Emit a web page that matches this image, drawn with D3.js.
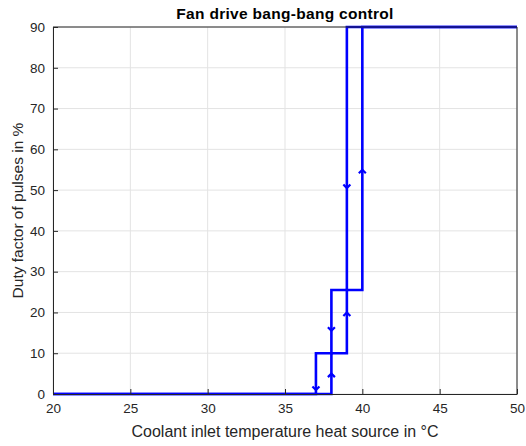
<!DOCTYPE html>
<html>
<head>
<meta charset="utf-8">
<script src="https://cdn.jsdelivr.net/npm/d3@7"></script>
<style>
  body { margin: 0; background: #fff; }
  svg { font-family: "Liberation Sans", Arial, sans-serif; }
</style>
</head>
<body>
<div id="chart"></div>
<script>
// hysteresis loop, heating branch and cooling branch
const upTemp = [20, 38, 38, 39, 39, 40, 40, 50];
const upDuty = [0, 0, 10, 10, 25.5, 25.5, 90, 90];
const downTemp = [50, 39, 39, 38, 38, 37, 37, 20];
const downDuty = [90, 90, 25.5, 25.5, 10, 10, 0, 0];

// arrow heads: position and direction (1 up, -1 down)
const arrowTemp = [38, 39, 40, 37, 38, 39];
const arrowDuty = [5, 20, 55, 1, 15.5, 50.5];
const arrowDir = [1, 1, 1, -1, -1, -1];

const xTicks = [20, 25, 30, 35, 40, 45, 50];
const yTicks = [0, 10, 20, 30, 40, 50, 60, 70, 80, 90];

const W = 526, H = 446;
const margin = { top: 27, right: 9, bottom: 52, left: 53 };
const width = W - margin.left - margin.right;
const height = H - margin.top - margin.bottom;

const svg = d3.select('#chart').append('svg')
  .attr('width', W)
  .attr('height', H);

const g = svg.append('g').attr('transform', `translate(${margin.left},${margin.top})`);

const x = d3.scaleLinear().domain([20, 50]).range([0, width]);
const y = d3.scaleLinear().domain([0, 90]).range([height, 0]);

// grid
g.append('g')
  .selectAll('line')
  .data(xTicks)
  .join('line')
  .attr('x1', d => x(d)).attr('x2', d => x(d))
  .attr('y1', 0).attr('y2', height)
  .attr('stroke', '#e3e3e3');
g.append('g')
  .selectAll('line')
  .data(yTicks)
  .join('line')
  .attr('x1', 0).attr('x2', width)
  .attr('y1', d => y(d)).attr('y2', d => y(d))
  .attr('stroke', '#e3e3e3');

const line = d3.line().x(d => x(d[0])).y(d => y(d[1]));
const upPts = upTemp.map((t, i) => [t, upDuty[i]]);
const downPts = downTemp.map((t, i) => [t, downDuty[i]]);

[upPts, downPts].forEach(pts => {
  g.append('path')
    .attr('d', line(pts))
    .attr('fill', 'none')
    .attr('stroke', '#0000ff')
    .attr('stroke-width', 2.6)
    .attr('stroke-linejoin', 'miter');
});

// arrows
arrowTemp.forEach((t, i) => {
  const px = x(t), py = y(arrowDuty[i]), dir = arrowDir[i];
  g.append('path')
    .attr('d', `M${px - 3.5},${py + dir * 3.5}L${px},${py}L${px + 3.5},${py + dir * 3.5}`)
    .attr('fill', 'none')
    .attr('stroke', '#0000ff')
    .attr('stroke-width', 2.2);
});

// axes
const xAxis = g.append('g')
  .attr('transform', `translate(0,${height})`)
  .call(d3.axisBottom(x).tickValues(xTicks).tickSizeInner(-5).tickSizeOuter(0).tickPadding(9));
const yAxis = g.append('g')
  .call(d3.axisLeft(y).tickValues(yTicks).tickSizeInner(-5).tickSizeOuter(0).tickPadding(8));
[xAxis, yAxis].forEach(ax => {
  ax.select('.domain').attr('stroke', '#262626');
  ax.selectAll('.tick line').attr('stroke', '#262626');
  ax.selectAll('.tick text')
    .attr('fill', '#262626')
    .attr('font-size', '13.5px')
    .attr('font-family', '"Liberation Sans", Arial, sans-serif');
});

// box
g.append('line').attr('x1', 0).attr('x2', width).attr('y1', 0).attr('y2', 0).attr('stroke', '#262626');
g.append('line').attr('x1', width).attr('x2', width).attr('y1', 0).attr('y2', height).attr('stroke', '#262626');

// labels
svg.append('text')
  .attr('x', margin.left + width / 2)
  .attr('y', 19)
  .attr('text-anchor', 'middle')
  .attr('font-size', '15.5px')
  .attr('letter-spacing', '0.3px')
  .attr('font-weight', 'bold')
  .attr('fill', '#000')
  .text('Fan drive bang-bang control');

svg.append('text')
  .attr('x', margin.left + width / 2)
  .attr('y', 437)
  .attr('text-anchor', 'middle')
  .attr('font-size', '16px')
  .attr('fill', '#262626')
  .text('Coolant inlet temperature heat source in °C');

svg.append('text')
  .attr('transform', `translate(23,${margin.top + height / 2}) rotate(-90)`)
  .attr('text-anchor', 'middle')
  .attr('font-size', '15.5px')
  .attr('fill', '#262626')
  .text('Duty factor of pulses in %');
</script>
</body>
</html>
